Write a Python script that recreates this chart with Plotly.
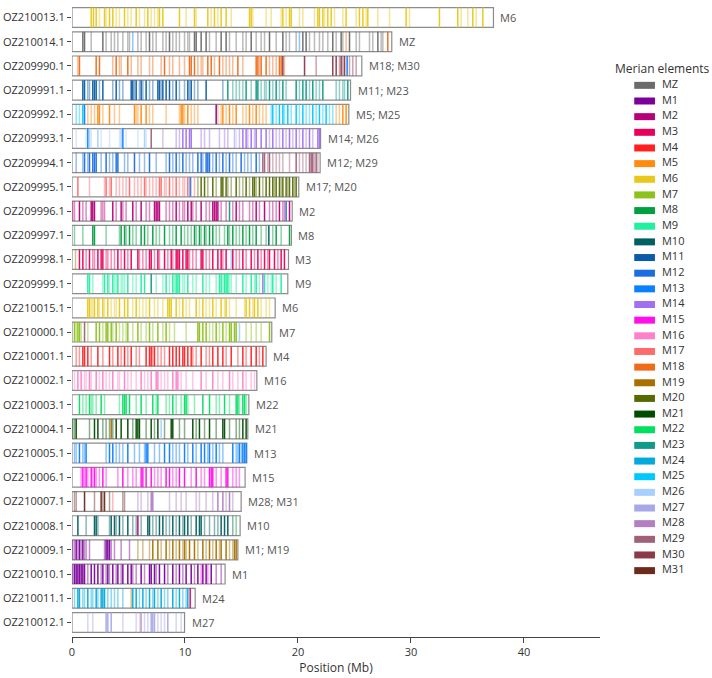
import plotly.graph_objects as go

# ---------------- data ----------------
elements = ["MZ", "M1", "M2", "M3", "M4", "M5", "M6", "M7", "M8", "M9", "M10", "M11", "M12", "M13",
            "M14", "M15", "M16", "M17", "M18", "M19", "M20", "M21", "M22", "M23", "M24", "M25",
            "M26", "M27", "M28", "M29", "M30", "M31"]
element_colors = ["#6b6b6b", "#7b0099", "#b5007a", "#e8005a", "#ff2020", "#ff8c10", "#e8c81a", "#8cc21a",
                  "#00a040", "#20f0a0", "#005f60", "#0a5ca8", "#1a6fe0", "#0a80ff", "#a070f0", "#ff10e8",
                  "#ff80c8", "#ff6b6b", "#f06a18", "#a87000", "#556b00", "#004d00", "#00e060", "#109a88",
                  "#00aadd", "#00c8ff", "#a8d0ff", "#a8a8e8", "#b080c0", "#a0607a", "#8b3a4a", "#6b2a1a"]

chrom_names = ["OZ210013.1", "OZ210014.1", "OZ209990.1", "OZ209991.1", "OZ209992.1", "OZ209993.1",
               "OZ209994.1", "OZ209995.1", "OZ209996.1", "OZ209997.1", "OZ209998.1", "OZ209999.1",
               "OZ210015.1", "OZ210000.1", "OZ210001.1", "OZ210002.1", "OZ210003.1", "OZ210004.1",
               "OZ210005.1", "OZ210006.1", "OZ210007.1", "OZ210008.1", "OZ210009.1", "OZ210010.1",
               "OZ210011.1", "OZ210012.1"]
chrom_lengths_mb = [37.3, 28.3, 25.65, 24.65, 24.5, 22.0, 21.96, 20.07, 19.49, 19.42, 19.16, 19.1,
                    17.98, 17.68, 17.18, 16.36, 15.65, 15.56, 15.47, 15.32, 14.97, 14.88, 14.68,
                    13.55, 10.9, 9.96]
chrom_labels = ["M6", "MZ", "M18; M30", "M11; M23", "M5; M25", "M14; M26", "M12; M29", "M17; M20",
                "M2", "M8", "M3", "M9", "M6", "M7", "M4", "M16", "M22", "M21", "M13", "M15",
                "M28; M31", "M10", "M1; M19", "M1", "M24", "M27"]

# gene positions (Mb) per chromosome: element -> (strong lines, faint lines)
genes_OZ210013 = {
    "M6": ([1.70, 1.90, 2.14, 2.88, 3.32, 3.61, 4.65, 5.68, 6.71, 7.74, 8.04, 9.51, 10.84, 12.02, 12.61, 13.20,
            13.64, 15.71, 15.86, 18.66, 19.25, 19.40, 21.76, 21.90, 22.20, 22.64, 22.94, 24.26, 25.44, 25.74,
            26.18, 29.57, 32.52, 34.14, 35.47, 36.36],
           [2.43, 3.02, 3.91, 4.20, 4.94, 5.24, 5.97, 6.42, 7.01, 7.30, 7.60, 10.10, 10.99, 12.32, 12.91, 14.09,
            16.00, 17.18, 17.63, 18.51, 18.95, 20.13, 20.43, 21.46, 22.35, 23.23, 23.97, 25.15, 26.03, 27.06,
            28.10, 29.87, 34.44, 35.03, 35.77]),
}
genes_OZ210014 = {
    "MZ": ([0.96, 1.11, 2.73, 6.86, 8.63, 10.84, 10.99, 11.43, 11.87, 13.20, 13.64, 15.86, 17.48, 18.66, 20.43,
            20.72, 23.08, 23.82, 24.56, 27.07],
           [1.70, 3.02, 3.47, 3.76, 4.06, 4.50, 4.94, 5.09, 5.83, 6.12, 6.56, 7.15, 7.45, 8.04, 8.33, 8.92, 9.22,
            9.51, 9.96, 10.25, 10.40, 12.17, 12.76, 13.94, 14.53, 15.12, 15.41, 16.30, 16.74, 17.04, 18.07, 18.95,
            19.25, 19.84, 21.02, 21.46, 21.90, 22.20, 22.64, 23.38, 23.97, 25.15, 25.44, 26.33, 26.62, 27.36,
            27.51]),
    "M13": ([], [5.38, 20.13]),
    "M18": ([27.95], [24.26]),
}
genes_OZ209990 = {
    "M18": ([0.66, 2.14, 2.43, 3.91, 4.94, 8.19, 10.40, 10.55, 10.84, 12.02, 12.32, 13.05, 14.68, 16.30, 16.45,
             16.74, 17.18, 18.36, 18.51],
            [0.52, 3.61, 4.20, 4.35, 5.24, 5.83, 6.12, 6.86, 7.15, 7.89, 8.63, 8.92, 9.51, 9.96, 11.14, 11.43,
             11.58, 12.61, 13.35, 13.64, 13.94, 14.23, 15.12, 16.59, 17.48, 17.77, 18.07, 18.80]),
    "M30": ([18.66, 20.58, 23.08, 23.38, 23.82, 24.12], [21.61, 23.67, 23.97, 24.56, 24.85, 25.15]),
    "M13": ([24.35], []),
}
genes_OZ209991 = {
    "M11": ([0.96, 1.11, 1.84, 1.99, 2.14, 2.73, 3.91, 5.24, 5.38, 5.68, 6.12, 6.56, 7.60, 7.74, 8.04, 8.33, 8.63,
             9.22, 10.25, 10.55, 11.87],
            [1.40, 1.55, 2.43, 3.61, 4.20, 4.50, 5.53, 5.97, 6.27, 6.86, 7.15, 7.89, 8.92, 9.51, 9.96, 10.40,
             10.84, 11.14, 13.35]),
    "M23": ([13.79, 15.41, 16.30, 16.45, 17.48, 18.07, 18.66, 19.84, 20.43, 20.72, 21.31, 22.20, 24.41],
            [14.23, 14.53, 14.82, 15.12, 15.86, 16.74, 17.04, 17.18, 17.77, 18.36, 18.95, 20.13, 21.02, 21.61,
             21.90, 23.38, 23.67, 23.97, 24.12]),
}
genes_OZ209992 = {
    "M5": ([2.29, 2.43, 3.32, 5.53, 6.12, 6.56, 9.66, 9.81, 10.25, 13.35, 13.94, 14.53, 15.71, 16.30, 23.97, 24.26],
           [1.40, 1.70, 1.99, 2.73, 3.76, 4.20, 5.68, 5.83, 6.86, 7.15, 8.33, 9.51, 9.96, 10.55, 10.84, 11.14,
            12.91, 13.20, 13.64, 14.23, 15.12, 15.41, 16.00, 16.59, 16.89, 17.18, 23.38, 23.67]),
    "M25": ([0.96, 17.77, 18.36, 18.66, 19.10, 19.84, 20.43, 21.31, 21.90, 22.49],
            [0.37, 0.66, 17.63, 18.07, 18.80, 19.40, 20.13, 20.72, 21.02, 21.61, 22.20, 22.79, 23.08]),
    "M13": ([1.11], []),
    "M1": ([12.76], []),
}
genes_OZ209993 = {
    "M26": ([1.55, 2.29, 4.35, 6.42],
            [0.37, 1.25, 1.70, 2.58, 3.32, 4.20, 4.79, 5.83, 6.56, 14.53]),
    "M13": ([1.40, 4.50], []),
    "M29": ([7.01], []),
    "M28": ([], [8.04]),
    "M14": ([9.81, 10.10, 10.40, 10.55, 15.12, 15.41, 15.86, 16.30, 16.74, 17.18, 17.77, 18.66, 19.25, 19.84,
             20.43, 21.02, 21.76, 21.90],
            [9.22, 9.51, 11.43, 11.73, 12.17, 13.05, 13.50, 13.79, 14.38, 14.82, 15.56, 16.15, 17.48, 18.07,
             18.36, 18.95, 19.54, 20.13, 20.72, 21.31]),
}
genes_OZ209994 = {
    "M12": ([1.11, 1.55, 1.84, 1.99, 2.14, 3.02, 3.91, 4.06, 5.53, 6.86, 8.63, 9.22, 9.81, 11.14, 11.43, 11.87,
             12.02, 12.17, 12.76, 13.35, 13.94, 14.97, 16.30],
            [0.37, 0.96, 1.40, 2.58, 3.32, 3.61, 4.65, 4.94, 5.97, 6.42, 7.45, 8.33, 8.92, 9.51, 10.10, 10.40,
             10.69, 11.58, 12.46, 13.05, 13.64, 14.23, 14.53, 15.27, 15.56, 15.86, 16.59]),
    "M29": ([16.89, 17.04, 17.48, 19.84, 21.02, 21.17, 21.31, 21.61],
            [17.33, 17.77, 18.07, 18.36, 18.66, 19.25, 20.13, 20.43, 20.72, 21.46, 21.76]),
}
genes_OZ209995 = {
    "M17": ([0.52, 3.02, 3.47, 5.09, 6.42, 7.74, 7.89, 8.63, 9.22, 10.25],
            [1.55, 2.88, 3.32, 3.91, 4.20, 4.50, 4.79, 5.53, 5.83, 6.12, 6.56, 6.86, 7.15, 7.45, 8.19, 8.33, 8.92,
             9.51, 9.81, 9.96, 10.55, 10.84]),
    "M13": ([10.46], []),
    "M20": ([11.43, 11.73, 12.46, 13.20, 13.35, 13.64, 14.53, 15.41, 16.00, 16.15, 16.59, 17.18, 17.48, 17.77,
             18.07, 18.36, 18.66, 18.95, 19.25, 19.54, 19.84],
            [11.14, 12.02, 12.76, 13.79, 14.09, 14.82, 15.12, 15.71, 16.30, 16.89, 17.92, 18.51, 19.10, 19.69]),
}
genes_OZ209996 = {
    "M2": ([0.66, 1.70, 1.84, 1.99, 3.61, 4.35, 5.38, 6.12, 7.30, 7.45, 7.60, 7.74, 9.22, 10.25, 10.55, 11.43,
            12.46, 12.61, 12.76, 12.91, 14.53, 16.30, 17.04, 18.36, 19.25],
           [0.07, 0.22, 0.96, 1.25, 2.58, 2.73, 2.88, 3.91, 4.50, 4.79, 5.68, 6.56, 6.86, 8.33, 8.63, 8.92, 9.51,
            9.81, 9.96, 10.69, 10.99, 11.87, 12.17, 13.20, 13.64, 14.23, 14.82, 15.12, 15.71, 16.00, 16.59,
            17.48, 17.77, 18.07, 18.66, 18.80]),
    "M23": ([13.94], []),
    "M12": ([18.95], []),
}
genes_OZ209997 = {
    "M8": ([1.84, 1.99, 4.35, 4.65, 5.09, 6.12, 6.42, 7.15, 8.19, 9.22, 9.66, 10.84, 11.28, 11.73, 12.17, 12.46,
            13.79, 14.23, 15.12, 15.71, 16.30, 18.07, 19.25],
           [0.22, 0.96, 3.02, 4.20, 4.79, 5.38, 5.68, 6.71, 7.45, 7.74, 8.63, 8.92, 9.96, 10.25, 10.55, 10.99,
            11.43, 11.87, 12.76, 13.05, 13.50, 13.94, 14.53, 14.82, 15.41, 16.00, 16.74, 17.18, 17.77, 18.51]),
    "M10": ([17.42], []),
}
genes_OZ209998 = {
    "M3": ([0.66, 0.96, 1.55, 2.29, 2.58, 2.73, 4.06, 4.65, 5.24, 5.83, 6.86, 7.01, 7.60, 8.19, 8.78, 9.22, 9.37,
            9.51, 9.81, 10.10, 10.25, 11.43, 11.58, 12.46, 12.91, 13.20, 13.64, 14.23, 15.12, 15.86, 16.45, 17.04,
            17.48, 17.92, 18.51, 18.80],
           [1.25, 1.84, 1.99, 3.02, 3.17, 3.47, 3.76, 4.35, 4.94, 5.97, 6.27, 6.56, 7.30, 7.74, 8.48, 8.92, 10.40,
            10.69, 10.99, 11.87, 12.17, 13.35, 14.53, 14.82, 15.41, 16.15, 16.74, 17.33, 18.22]),
    "M19": ([], [0.31]),
    "M26": ([14.09], []),
}
genes_OZ209999 = {
    "M9": ([1.40, 1.55, 2.88, 3.17, 3.61, 4.06, 4.94, 6.12, 6.42, 8.33, 8.92, 9.22, 9.37, 9.51, 10.25, 11.58,
            13.05, 13.20, 13.50, 13.64, 13.79, 15.12, 15.86, 16.30, 17.04, 17.77, 18.51],
           [1.84, 2.73, 3.32, 3.76, 3.91, 4.35, 4.50, 4.65, 5.38, 5.68, 7.45, 8.04, 8.63, 9.07, 9.81, 9.96, 10.69,
            10.99, 11.87, 12.17, 12.76, 13.35, 13.94, 14.09, 14.53, 15.41, 16.15, 16.59, 17.33, 17.63, 18.07]),
    "M23": ([7.01], []),
    "M14": ([16.89], []),
}
genes_OZ210015 = {
    "M6": ([1.40, 1.55, 1.99, 2.29, 2.73, 3.17, 4.20, 4.65, 4.94, 5.68, 6.86, 8.48, 8.63, 8.78, 9.22, 9.81, 10.99,
            11.58, 12.46, 13.20, 13.64, 15.41, 15.71, 16.15, 16.45],
           [1.70, 1.84, 2.43, 2.88, 3.47, 3.76, 3.91, 5.38, 5.97, 6.27, 6.56, 7.30, 7.60, 8.04, 9.51, 10.10, 10.40,
            11.28, 11.87, 12.17, 12.76, 13.50, 13.94, 14.53, 15.27, 16.00, 16.74, 17.18, 17.48]),
}
genes_OZ210000 = {
    "M7": ([0.22, 0.52, 0.66, 2.14, 2.43, 3.02, 3.17, 3.47, 3.91, 4.94, 5.83, 6.86, 7.60, 8.33, 11.14, 11.28,
            11.58, 11.87, 12.76, 13.35, 13.94, 14.09, 14.38, 14.53, 17.48],
           [0.37, 0.81, 1.40, 2.73, 3.61, 4.20, 4.50, 4.79, 5.38, 6.12, 6.56, 7.15, 8.04, 8.63, 9.07, 10.10, 12.17,
            12.46, 13.05, 13.64, 15.41, 15.86, 16.30, 16.74]),
    "M29": ([1.11], []),
    "M26": ([14.82], []),
}
genes_OZ210001 = {
    "M4": ([0.96, 1.11, 1.40, 2.29, 3.32, 4.06, 4.65, 5.24, 6.56, 6.86, 7.01, 7.30, 8.63, 8.92, 9.22, 9.51, 9.81,
            9.96, 10.25, 10.55, 11.43, 12.46, 12.91, 13.35, 14.09, 15.12, 15.86, 16.30, 16.89],
           [0.37, 0.66, 1.70, 2.73, 3.61, 4.35, 4.94, 5.68, 5.97, 7.15, 7.60, 7.89, 8.19, 10.69, 10.99, 11.87,
            12.17, 13.64, 14.68, 15.41, 16.59]),
}
genes_OZ210002 = {
    "M16": ([0.52, 0.81, 1.55, 2.14, 2.73, 3.61, 4.65, 6.12, 7.01, 7.45, 7.60, 8.92, 9.22, 9.37, 11.43, 12.46,
             13.94, 15.12],
            [0.22, 1.11, 1.25, 1.70, 2.43, 3.02, 3.32, 4.06, 4.20, 4.94, 5.24, 5.68, 6.42, 6.71, 7.89, 8.19, 8.48,
             9.66, 10.10, 10.69, 11.87, 12.91, 13.35, 14.23, 14.68, 15.41, 15.86, 16.15]),
}
genes_OZ210003 = {
    "M22": ([0.66, 1.55, 2.58, 4.50, 4.65, 4.79, 5.09, 6.12, 7.15, 7.60, 8.92, 9.96, 10.10, 11.58, 12.17, 13.50,
             14.53, 14.68, 15.12, 15.27],
            [0.96, 1.25, 1.70, 1.84, 2.14, 2.88, 4.20, 5.68, 6.56, 7.45, 8.33, 8.63, 9.22, 9.66, 10.25, 10.84,
             12.76, 13.05, 13.94, 14.82, 15.41]),
}
genes_OZ210004 = {
    "M21": ([0.37, 1.99, 2.29, 3.91, 4.35, 4.94, 5.68, 5.83, 5.97, 7.01, 7.60, 8.78, 8.92, 10.69, 11.28, 12.17,
             13.35, 13.50, 15.12, 15.41],
            [0.07, 0.22, 1.55, 2.73, 3.02, 3.32, 3.61, 5.38, 6.56, 7.30, 8.19, 9.51, 9.96, 10.99, 11.73, 12.76,
             13.94, 14.53, 14.82]),
    "M19": ([3.47], []),
    "M26": ([7.89], []),
}
genes_OZ210005 = {
    "M13": ([0.66, 1.25, 3.32, 3.61, 4.94, 6.56, 6.71, 8.19, 8.63, 9.96, 10.69, 11.43, 11.73, 12.17, 12.76, 14.23,
             14.82, 15.12, 15.27, 15.41],
            [0.22, 0.37, 0.96, 1.11, 3.02, 3.91, 4.20, 4.50, 5.53, 5.97, 6.42, 7.30, 7.74, 8.92, 9.22, 9.51, 10.25,
             10.99, 12.02, 12.46, 13.05, 13.35, 14.53, 14.68, 15.00]),
}
genes_OZ210006 = {
    "M15": ([0.96, 1.25, 1.70, 1.99, 2.73, 4.50, 6.12, 6.27, 6.56, 7.01, 8.33, 8.63, 9.51, 9.96, 10.99, 12.17,
             12.32, 12.46, 13.64, 13.79],
            [0.81, 1.11, 1.40, 1.84, 2.14, 2.43, 3.02, 4.06, 4.94, 5.38, 5.68, 7.30, 7.60, 7.89, 8.92, 9.22, 10.55,
             11.43, 11.73, 12.76, 13.20, 14.23, 14.53, 14.82]),
}
genes_OZ210007 = {
    "M31": ([1.11, 2.58, 2.88], [0.22, 0.37, 1.99, 2.73, 3.32, 4.50, 4.65]),
    "M17": ([], [3.61]),
    "M28": ([7.01, 7.15, 12.91, 13.35, 13.94],
            [5.83, 6.12, 6.71, 8.63, 9.22, 9.66, 10.10, 10.99, 11.28, 11.87, 12.46, 13.64, 14.23]),
}
genes_OZ210008 = {
    "M10": ([0.52, 1.99, 2.14, 3.47, 3.76, 4.20, 4.94, 6.71, 6.86, 7.74, 8.04, 8.92, 9.51, 9.96, 10.25, 10.99,
             11.28, 11.43, 13.20, 13.50, 13.79],
            [1.25, 2.29, 3.32, 3.91, 4.50, 5.38, 5.68, 6.12, 7.15, 7.45, 8.33, 8.63, 9.22, 9.81, 10.55, 11.73,
             12.17, 12.61, 12.91, 14.23]),
    "M2": ([5.83], []),
    "M8": ([], [14.53]),
}
genes_OZ210009 = {
    "M1": ([0.37, 0.66, 0.96, 3.02, 3.17, 3.32],
           [0.07, 0.22, 0.52, 0.81, 1.11, 1.25, 1.55, 2.88, 3.47, 3.76, 4.35, 5.09]),
    "M19": ([7.15, 7.60, 8.33, 8.92, 9.51, 9.96, 10.40, 10.84, 11.58, 12.17, 12.76, 13.20, 13.64, 14.38, 14.53],
            [5.83, 6.27, 6.86, 7.89, 8.63, 9.22, 9.81, 10.10, 11.14, 11.87, 12.46, 13.05, 13.94, 14.23]),
}
genes_OZ210010 = {
    "M1": ([0.22, 0.37, 0.52, 0.66, 0.81, 0.96, 1.11, 1.70, 1.99, 2.29, 2.73, 3.17, 3.61, 4.06, 4.50, 4.94, 5.24,
            6.12, 6.86, 7.01, 7.30, 7.74, 8.19, 8.92, 9.51, 10.10, 10.55, 11.14, 11.58, 11.87, 12.32],
           [0.07, 1.40, 2.58, 3.02, 3.32, 3.91, 4.35, 5.38, 5.68, 6.42, 7.45, 8.48, 9.22, 9.81, 10.84, 12.76,
            13.20]),
    "M15": ([], [11.43, 12.02]),
}
genes_OZ210011 = {
    "M24": ([0.52, 0.66, 1.40, 2.14, 2.58, 2.73, 2.88, 5.38, 5.68, 6.27, 6.86, 7.30, 7.89, 8.92, 9.51, 10.25],
            [0.22, 0.96, 1.11, 1.70, 1.84, 2.29, 3.17, 3.47, 3.76, 4.06, 4.50, 5.97, 6.56, 7.15, 7.60, 8.19, 8.48,
             9.22, 9.81, 10.10]),
    "M19": ([], [5.24]),
    "M3": ([10.46], []),
}
genes_OZ210012 = {
    "M27": ([3.02, 3.17, 3.47, 6.12, 7.01, 7.15, 7.30, 8.48],
            [1.40, 1.84, 4.50, 5.68, 6.42, 6.71, 7.60, 7.89, 8.19, 9.22, 9.66]),
    "M17": ([], [6.03]),
}

gene_sets = [genes_OZ210013, genes_OZ210014, genes_OZ209990, genes_OZ209991, genes_OZ209992, genes_OZ209993,
             genes_OZ209994, genes_OZ209995, genes_OZ209996, genes_OZ209997, genes_OZ209998, genes_OZ209999,
             genes_OZ210015, genes_OZ210000, genes_OZ210001, genes_OZ210002, genes_OZ210003, genes_OZ210004,
             genes_OZ210005, genes_OZ210006, genes_OZ210007, genes_OZ210008, genes_OZ210009, genes_OZ210010,
             genes_OZ210011, genes_OZ210012]

# ---------------- figure ----------------
FONT = "Open Sans"
rows = list(range(len(chrom_names)))
bar_w = 0.82
half = bar_w / 2

fig = go.Figure()

# chromosome boxes
fig.add_trace(go.Bar(
    orientation="h", y=rows, x=chrom_lengths_mb, base=0, width=bar_w,
    marker=dict(color="white", line=dict(color="#8c8c8c", width=1.2)),
    showlegend=False, hoverinfo="skip", xaxis="x", yaxis="y"))

# gene lines: faint first, then strong
for level, opacity in ((1, 0.45), (0, 0.95)):
    for el, col in zip(elements, element_colors):
        xs, ys = [], []
        for ci, gs in enumerate(gene_sets):
            if el in gs:
                for p in gs[el][level]:
                    xs += [p, p, None]
                    ys += [ci - half, ci + half, None]
        if xs:
            fig.add_trace(go.Scatter(
                x=xs, y=ys, mode="lines", line=dict(color=col, width=1.5),
                opacity=opacity, showlegend=False, hoverinfo="skip",
                xaxis="x", yaxis="y"))

# chromosome labels on the right
annotations = []
for ci, (L, lab) in enumerate(zip(chrom_lengths_mb, chrom_labels)):
    annotations.append(dict(x=L, y=ci, xref="x", yref="y", text=lab, showarrow=False,
                            xanchor="left", yanchor="middle", xshift=5,
                            font=dict(family=FONT, size=11, color="#555555")))

# legend drawn in its own small subplot (x2 units ~ pixels from the subplot's left edge)
leg_idx = list(range(len(elements)))
swatch_start = [26.3] * len(elements)
swatch_len = [20.7] * len(elements)
leg_x, leg_y = [], []
for i in leg_idx:
    leg_x += [swatch_start[i], swatch_start[i] + swatch_len[i], None]
    leg_y += [i, i, None]
for i, (el, col) in enumerate(zip(elements, element_colors)):
    fig.add_trace(go.Scatter(
        x=[swatch_start[i], swatch_start[i] + swatch_len[i]], y=[i, i], mode="lines",
        line=dict(color=col, width=7), showlegend=False, hoverinfo="skip",
        xaxis="x2", yaxis="y2"))
fig.add_trace(go.Scatter(
    x=[54] * len(elements), y=leg_idx, mode="text", text=elements, textposition="middle right",
    textfont=dict(family=FONT, size=11, color="#333333"),
    showlegend=False, hoverinfo="skip", xaxis="x2", yaxis="y2"))
annotations.append(dict(x=5, y=-1.05, xref="x2", yref="y2", text="Merian elements", showarrow=False,
                        xanchor="left", yanchor="middle",
                        font=dict(family=FONT, size=12, color="#333333")))

hidden = dict(showgrid=False, zeroline=False, showline=False, showticklabels=False, ticks="")
fig.update_layout(
    width=712, height=678,
    margin=dict(l=72, r=2, t=2.5, b=40.5),
    paper_bgcolor="white", plot_bgcolor="white",
    font=dict(family=FONT, size=11, color="#333333"),
    showlegend=False,
    annotations=annotations,
    xaxis=dict(domain=[0, 0.8276], range=[0, 46.73], autorange=False, showgrid=False, zeroline=False,
               showline=True, linecolor="#444444", linewidth=1,
               ticks="outside", ticklen=5, tickcolor="#444444",
               tickvals=[0, 10, 20, 30, 40], tickfont=dict(size=11, color="#333333"),
               title=dict(text="Position (Mb)", font=dict(size=12, color="#333333"), standoff=4),
               anchor="y"),
    yaxis=dict(domain=[0, 1], range=[25.6, -0.6], autorange=False, showgrid=False, zeroline=False,
               showline=False, ticks="outside", ticklen=4, tickcolor="#444444",
               tickvals=rows, ticktext=chrom_names, tickfont=dict(size=11, color="#333333"),
               anchor="x"),
    xaxis2=dict(domain=[0.84, 1.0], range=[0, 102], autorange=False, anchor="y2", **hidden),
    yaxis2=dict(domain=[0, 1], range=[35.24, -5.26], autorange=False, anchor="x2", **hidden),
)

fig.write_html("out.html")
